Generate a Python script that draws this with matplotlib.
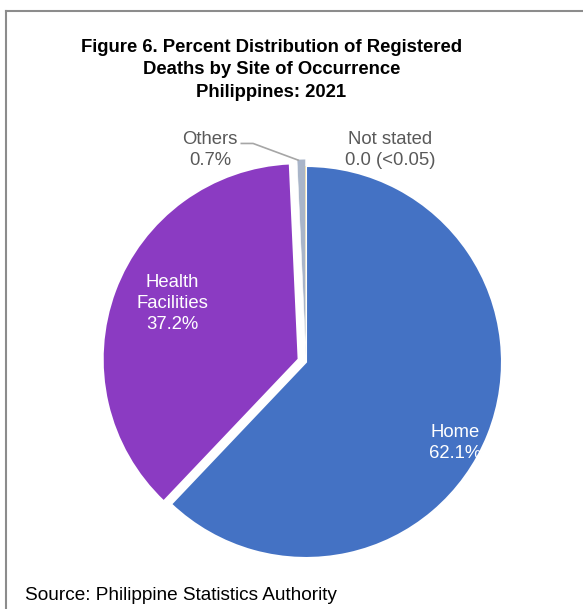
import matplotlib
matplotlib.use("Agg")
import matplotlib.pyplot as plt
from matplotlib.lines import Line2D

plt.rcParams['font.family'] = ['Liberation Sans', 'DejaVu Sans']

categories = ["Home", "Health Facilities", "Others", "Not stated"]
values = [62.1, 37.2, 0.7, 0.02]
label_texts = ["Home\n62.1%", "Health\nFacilities\n37.2%", "Others\n0.7%", "Not stated\n0.0 (<0.05)"]
colors = ["#4472C4", "#8B3BC2", "#A9B5C9", "#FFC000"]
explode = [0.0, 0.04, 0.035, 0.0]

fig = plt.figure(figsize=(5.83, 6.09), dpi=100)
W, H = 583, 609

# frame
fig.add_artist(Line2D([6/W, 6/W], [0, 1 - 11/H], color="#8c8c8c", lw=1.5, transform=fig.transFigure))
fig.add_artist(Line2D([6/W, 1], [1 - 11/H, 1 - 11/H], color="#8c8c8c", lw=1.5, transform=fig.transFigure))

R = 196
cx, cy = 306, 362
span = 2.2 * R
ax = fig.add_axes([(cx - span/2)/W, (H - cy - span/2)/H, span/W, span/H])

wedges, _ = ax.pie(values, colors=colors, startangle=90, counterclock=False,
                   explode=explode, radius=1.0,
                   wedgeprops=dict(edgecolor="white", linewidth=1.5))
wedges[2].set_linewidth(0.4)
wedges[3].set_linewidth(0.0)
ax.set_xlim(-1.1, 1.1)
ax.set_ylim(-1.1, 1.1)
ax.set_aspect("equal")
ax.axis("off")

fs = 13.3
ls = 1.3
ax.text(0.76, -0.413, label_texts[0], color="white", ha="center", va="center", fontsize=fs, linespacing=ls)
ax.text(-0.683, 0.30, label_texts[1], color="white", ha="center", va="center", fontsize=fs, linespacing=ls)
ax.text(-0.49, 1.08, label_texts[2], color="#595959", ha="center", va="center", fontsize=fs, linespacing=ls)
ax.text(0.43, 1.08, label_texts[3], color="#595959", ha="center", va="center", fontsize=fs, linespacing=ls)
# leader line for Others
ax.plot([-0.33, -0.27, -0.04], [1.115, 1.115, 1.03], color="#a6a6a6", lw=1.2, clip_on=False)

fig.text(271.5/W, 1 - 70/H, "Figure 6. Percent Distribution of Registered\nDeaths by Site of Occurrence\nPhilippines: 2021",
         ha="center", va="center", fontsize=13.3, fontweight="bold", linespacing=1.45)
fig.text(25/W, 1 - 595/H, "Source: Philippine Statistics Authority", ha="left", va="center", fontsize=13.7)

fig.savefig("out.png", dpi=100)
